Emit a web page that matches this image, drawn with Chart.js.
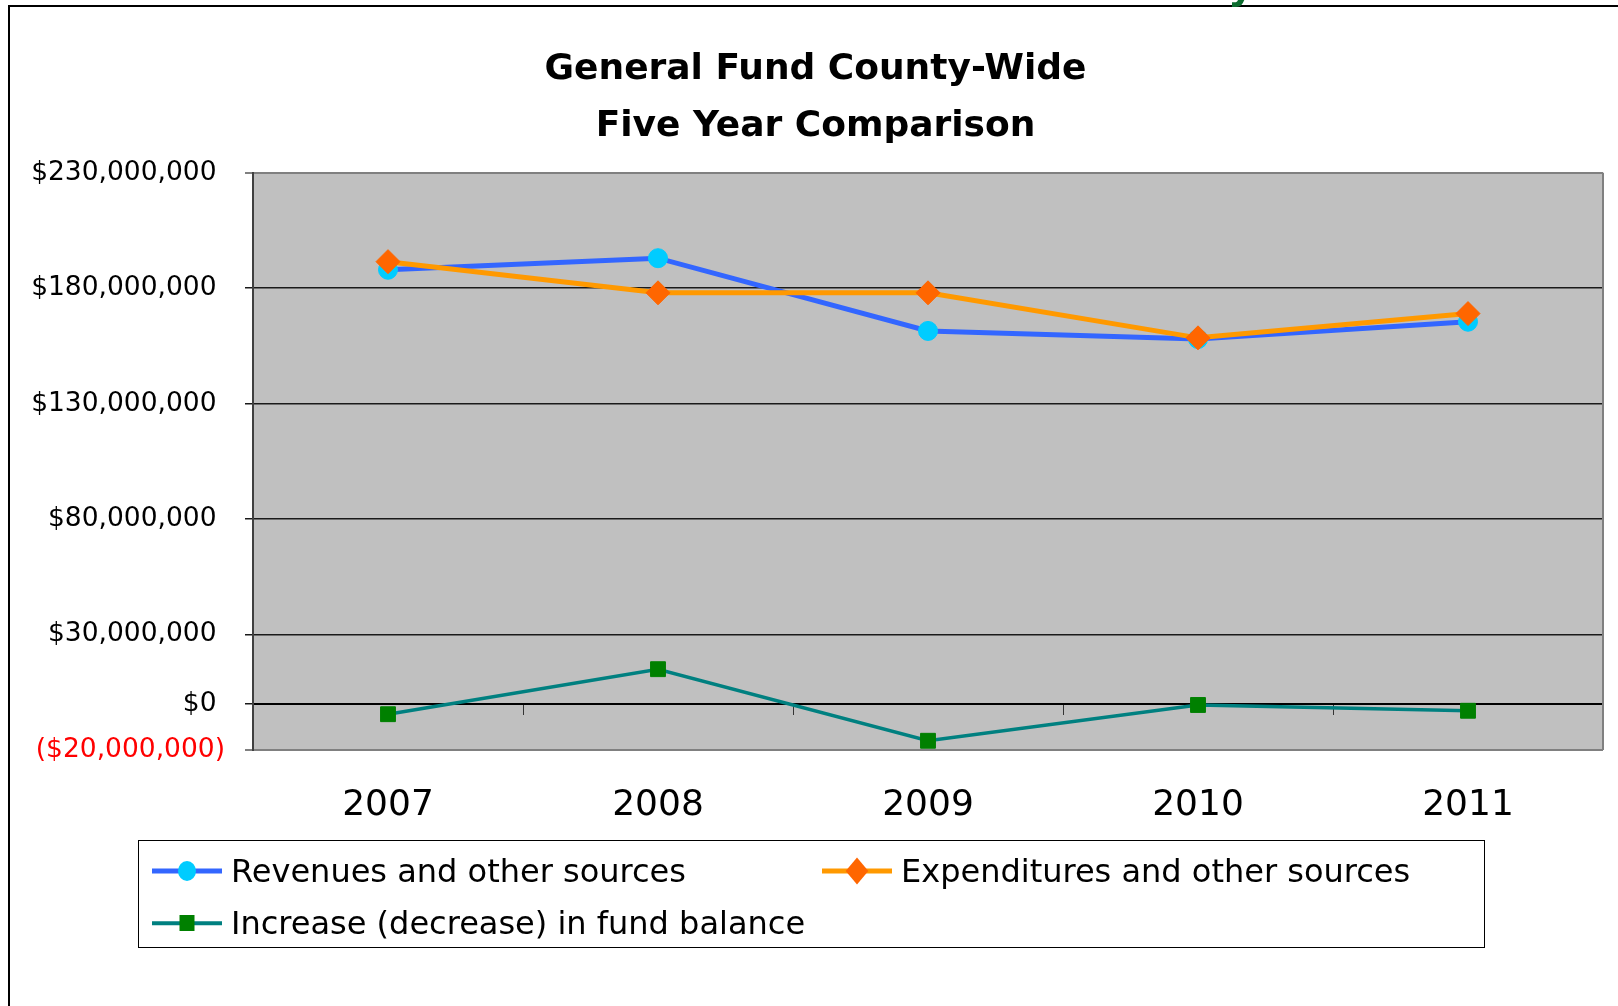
<!DOCTYPE html>
<html>
<head>
<meta charset="utf-8">
<script src="https://cdn.jsdelivr.net/npm/chart.js@4.4.1/dist/chart.umd.min.js"></script>
<style>
  body { margin: 0; background: #fff; overflow: hidden; }
  #wrap { position: relative; width: 1618px; height: 1006px; overflow: hidden; }
  #chart { position: absolute; left: 0; top: 0; }
  #frame { position: absolute; left: 8px; top: 5px; width: 1700px; height: 1100px;
           border-left: 2px solid #000; border-top: 2px solid #000; }
  #stray { position: absolute; left: 1228px; top: -36px; font: bold 40px/40px "DejaVu Sans";
           color: #0b6b2e; }
  #legend { position: absolute; left: 138px; top: 840px; width: 1345px; height: 106px;
            border: 1.5px solid #000; background: #fff; }
  .item { position: absolute; height: 40px; font: 32px "DejaVu Sans"; color: #000;
          display: flex; align-items: center; white-space: nowrap; }
  .sample { position: relative; width: 70px; height: 40px; margin-right: 9px; }
  .sample .ln { position: absolute; left: 0; right: 0; top: 50%; transform: translateY(-50%); }
  .sample .mk { position: absolute; left: 50%; top: 50%; }
</style>
</head>
<body>
<div id="wrap">
  <canvas id="chart" width="1618" height="1006"></canvas>
  <div id="frame"></div>
  <div id="stray">y</div>
  <div id="legend"></div>
</div>
<script>
// Chart data
const years = ['2007', '2008', '2009', '2010', '2011'];
const revenues = [188000000, 193000000, 161500000, 158000000, 165500000];
const expenditures = [191500000, 178000000, 178000000, 158500000, 169000000];
const fundChange = [-4500000, 15000000, -16000000, -500000, -3000000];
const yTicks = [-20000000, 0, 30000000, 80000000, 130000000, 180000000, 230000000];
const seriesNames = ['Revenues and other sources', 'Expenditures and other sources', 'Increase (decrease) in fund balance'];

// Excel style currency, negatives in brackets
function money(v) {
  const s = '$' + Math.abs(v).toLocaleString('en-US');
  return v < 0 ? '(' + s + ')' : s + ' ';
}

// grey plot background and right border
const plotArea = {
  id: 'plotArea',
  beforeDraw(chart) {
    const { ctx, chartArea: a } = chart;
    ctx.save();
    ctx.fillStyle = '#c0c0c0';
    ctx.fillRect(a.left, a.top, a.width, a.height);
    ctx.restore();
  },
  beforeDatasetsDraw(chart) {
    const { ctx, chartArea: a } = chart;
    ctx.save();
    ctx.strokeStyle = '#808080';
    ctx.lineWidth = 2;
    ctx.beginPath();
    ctx.moveTo(a.right, a.top);
    ctx.lineTo(a.right, a.bottom);
    ctx.stroke();
    ctx.restore();
  }
};

const ctx = document.getElementById('chart').getContext('2d');
const chart = new Chart(ctx, {
  type: 'line',
  data: {
    labels: years,
    datasets: [{
      label: seriesNames[0],
      data: revenues,
      borderColor: '#3366ff',
      borderWidth: 5,
      pointStyle: 'circle',
      pointRadius: 9.5,
      pointBackgroundColor: '#00ccff',
      pointBorderColor: '#00ccff',
      pointBorderWidth: 1,
      order: 2
    }, {
      label: seriesNames[1],
      data: expenditures,
      borderColor: '#ff9900',
      borderWidth: 5,
      pointStyle: 'rectRot',
      pointRadius: 12,
      pointBackgroundColor: '#ff6600',
      pointBorderColor: '#ff6600',
      pointBorderWidth: 1,
      order: 1
    }, {
      label: seriesNames[2],
      data: fundChange,
      borderColor: '#008080',
      borderWidth: 3.5,
      pointStyle: 'rect',
      pointRadius: 10.5,
      pointBackgroundColor: '#008000',
      pointBorderColor: '#008000',
      pointBorderWidth: 1,
      order: 3
    }]
  },
  options: {
    responsive: false,
    animation: false,
    layout: { padding: { left: 28, right: 15, top: 0, bottom: 0 } },
    plugins: {
      legend: { display: false },
      tooltip: { enabled: false },
      title: {
        display: true,
        text: ['General Fund County-Wide', 'Five Year Comparison'],
        color: '#000',
        font: { family: 'DejaVu Sans', size: 36, weight: 'bold', lineHeight: 1.58 },
        padding: { top: 41, bottom: 18 }
      }
    },
    scales: {
      x: {
        type: 'category',
        offset: true,
        grid: { display: false, drawTicks: false },
        border: { display: false },
        ticks: { color: '#000', padding: 34, font: { family: 'DejaVu Sans', size: 36 } },
        afterFit(scale) { scale.height = 256; }
      },
      // only used for the little tick marks along the $0 line
      x2: {
        type: 'category',
        position: { y: 0 },
        offset: true,
        grid: { offset: true, drawOnChartArea: false, drawTicks: true, tickLength: 10, color: '#333', lineWidth: 1 },
        border: { display: true, color: '#000', width: 2 },
        ticks: { display: false }
      },
      y: {
        min: -20000000,
        max: 230000000,
        afterBuildTicks(scale) { scale.ticks = yTicks.map(v => ({ value: v })); },
        afterFit(scale) { scale.width = 225; },
        grid: {
          color: c => (c.tick && (c.tick.value === 230000000 || c.tick.value === -20000000)) ? '#808080' : '#1a1a1a',
          lineWidth: c => (c.tick && (c.tick.value === 230000000 || c.tick.value === -20000000)) ? 2 : 1.5,
          tickLength: 8
        },
        border: { display: true, color: '#404040', width: 2 },
        ticks: {
          padding: 20,
          color: c => c.tick.value < 0 ? '#ff0000' : '#000',
          font: { family: 'DejaVu Sans', size: 26.5 },
          callback: v => money(v)
        }
      }
    }
  },
  plugins: [plotArea]
});

// legend box, laid out like the spreadsheet one
const legendBox = document.getElementById('legend');
const legendPos = [[13, 10], [683, 10], [13, 62]];
chart.data.datasets.forEach((ds, i) => {
  const item = document.createElement('div');
  item.className = 'item';
  item.style.left = legendPos[i][0] + 'px';
  item.style.top = legendPos[i][1] + 'px';
  const sample = document.createElement('div');
  sample.className = 'sample';
  const ln = document.createElement('div');
  ln.className = 'ln';
  ln.style.height = ds.borderWidth + 'px';
  ln.style.background = ds.borderColor;
  const mk = document.createElement('div');
  mk.className = 'mk';
  mk.style.background = ds.pointBackgroundColor;
  if (ds.pointStyle === 'circle') {
    mk.style.width = '18px'; mk.style.height = '20px'; mk.style.borderRadius = '50%';
    mk.style.transform = 'translate(-50%, -50%)';
  } else if (ds.pointStyle === 'rectRot') {
    mk.style.width = '16px'; mk.style.height = '16px';
    mk.style.transform = 'translate(-50%, -50%) scaleY(1.2) rotate(45deg)';
  } else {
    mk.style.width = '15px'; mk.style.height = '16px';
    mk.style.transform = 'translate(-50%, -50%)';
  }
  sample.appendChild(ln);
  sample.appendChild(mk);
  item.appendChild(sample);
  const txt = document.createElement('span');
  txt.textContent = ds.label;
  item.appendChild(txt);
  legendBox.appendChild(item);
});
</script>
</body>
</html>
